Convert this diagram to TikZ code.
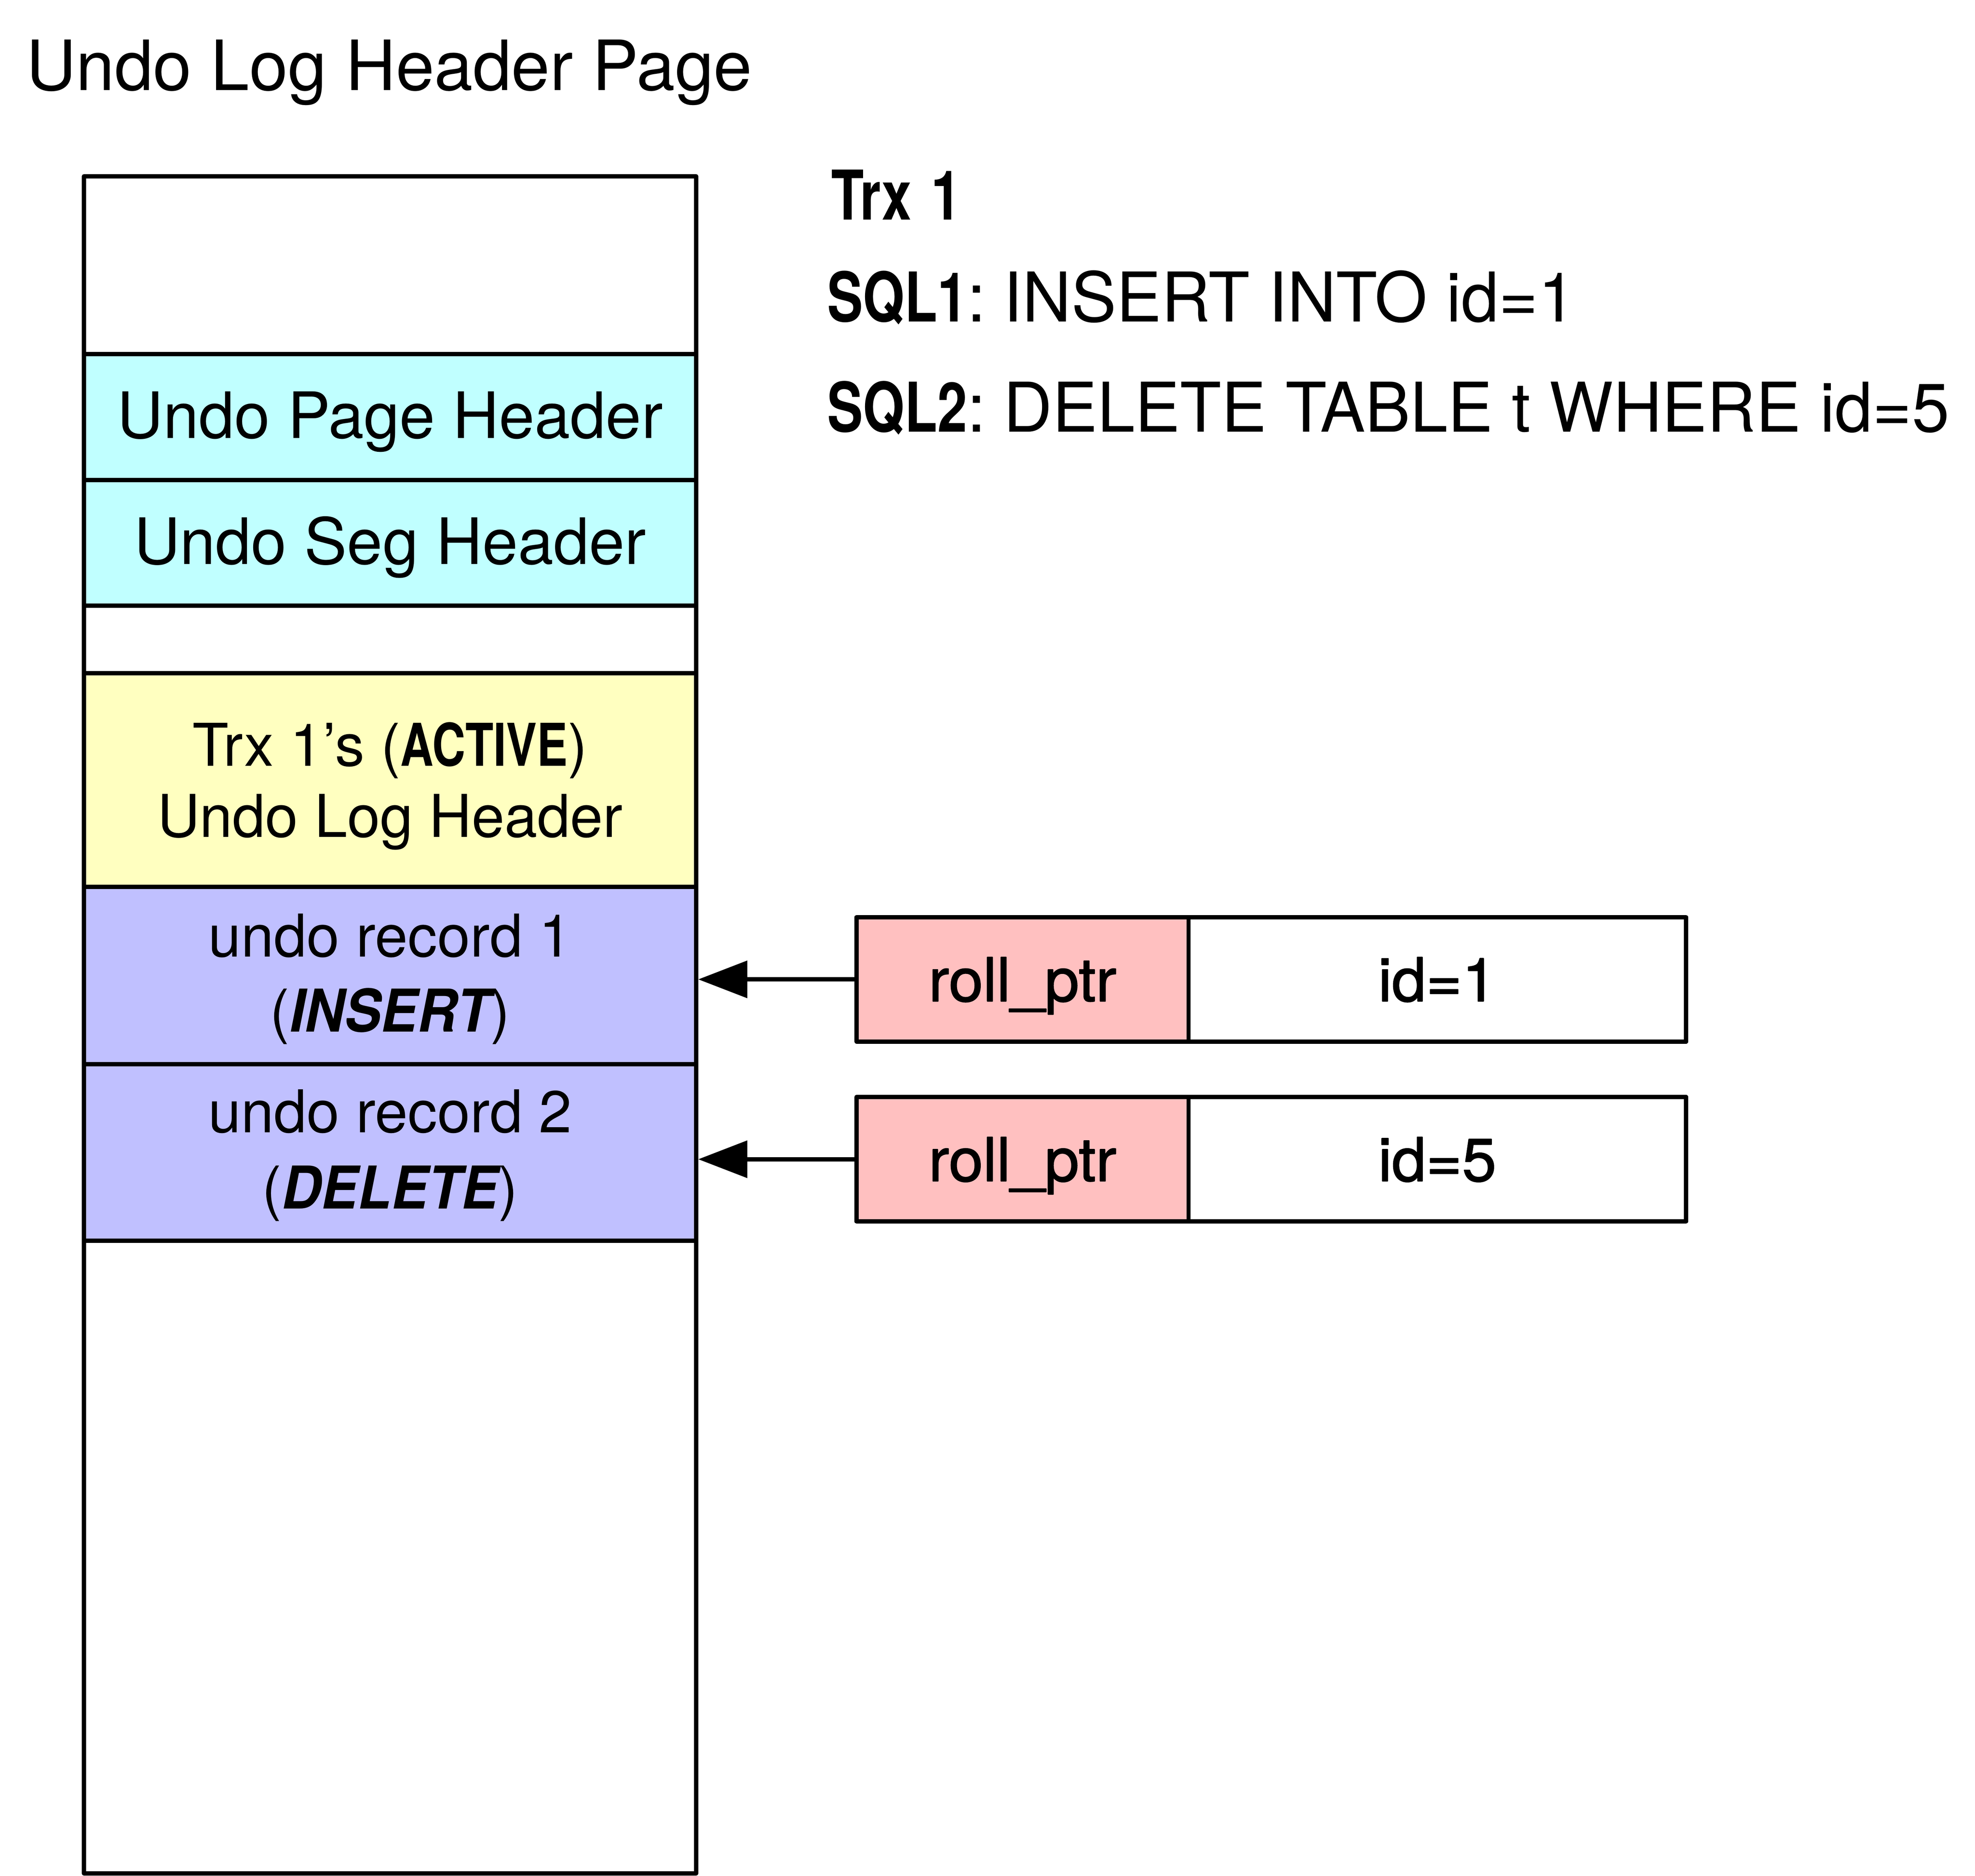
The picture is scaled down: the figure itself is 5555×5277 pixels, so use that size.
\documentclass[tikz,border=0pt]{standalone}
\usepackage{fontspec}
\setmainfont{TeX Gyre Heros}
\newfontfamily\cnb[FakeStretch=0.78]{TeX Gyre Heros}
\newfontfamily\sqlf[FakeStretch=0.985]{TeX Gyre Heros}
\newfontfamily\bif[FakeStretch=0.93]{TeX Gyre Heros}
\newfontfamily\medf[FakeBold=1.5,FakeStretch=1.02]{TeX Gyre Heros}
\usetikzlibrary{arrows.meta}
\definecolor{cyanfill}{RGB}{192,255,255}
\definecolor{yelfill}{RGB}{255,255,192}
\definecolor{lavfill}{RGB}{192,192,255}
\definecolor{pinkfill}{RGB}{255,192,192}
\newcommand\fsA{\fontsize{19.5pt}{23pt}\selectfont}
\newcommand\fsR{\fontsize{19.3pt}{23pt}\selectfont}
\newcommand\fsB{\fontsize{18pt}{22pt}\selectfont}
\newcommand\fsC{\fontsize{16.6pt}{20pt}\selectfont}
\newcommand\fsD{\fontsize{17pt}{20pt}\selectfont\medf}
\tikzset{
  cell/.style={draw=black, line width=1.2pt, line join=round, minimum width=172.2pt, inner sep=0pt, anchor=center},
  cyancell/.style={cell, fill=cyanfill, font=\fsB, text height=12pt, text depth=0pt},
  fbox/.style={draw=black, line width=1.2pt, line join=round, inner sep=0pt, minimum height=35pt, anchor=center, font=\fsD, text height=12.3pt, text depth=0pt},
  lbl/.style={inner sep=0pt, anchor=base, font=\fsC},
  ptr/.style={line width=1.2pt, -{Triangle[length=13.8pt,width=10.3pt]}}
}
\begin{document}
\begin{tikzpicture}[x=0.1pt,y=-0.1pt]
\useasboundingbox (0,0) rectangle (5555,5277);
% title and transaction text
\node[lbl, anchor=base west, font=\fsA] (title) at (72,254) {Undo Log Header Page};
\node[lbl, anchor=base west, font=\fsR] (trx) at (2336,618) {{\cnb\bfseries Trx\hspace{5.5pt}1}};
\node[lbl, anchor=base west, font=\fsR] (sql1) at (2325,905) {{\cnb\bfseries SQL1}{\sqlf:\hspace{5pt}INSERT INTO id=1}};
\node[lbl, anchor=base west, font=\fsR] (sql2) at (2325,1215) {{\cnb\bfseries SQL2}{\sqlf:\hspace{5pt}DELETE TABLE t WHERE id=5}};
% page column
\node[cell, minimum height=50pt] (top) at (1097,746) {};
\node[cyancell, minimum height=35.4pt] (pageh) at (1097,1173) {Undo Page Header};
\node[cyancell, minimum height=35.4pt] (segh) at (1097,1527) {Undo Seg Header};
\node[cell, minimum height=19pt] (gap) at (1097,1799) {};
\node[cell, fill=yelfill, minimum height=60.1pt] (loghdr) at (1097,2194.5) {};
\node[cell, fill=lavfill, minimum height=49.9pt] (rec1) at (1097,2744.5) {};
\node[cell, fill=lavfill, minimum height=49.6pt] (rec2) at (1097,3242) {};
\node[cell, minimum height=178pt] (free) at (1097,4380) {};
% column labels
\node[lbl] (lh1) at (1097,2155) {Trx 1’s ({\cnb\bfseries ACTIVE})};
\node[lbl] (lh2) at (1097,2355) {Undo Log Header};
\node[lbl] (r1a) at (1097,2691) {undo record 1};
\node[lbl] (r1b) at (1097,2903) {({\bif\bfseries\itshape INSERT})};
\node[lbl] (r2a) at (1097,3186) {undo record 2};
\node[lbl] (r2b) at (1097,3400) {({\bif\bfseries\itshape DELETE})};
% rows
\node[fbox, fill=pinkfill, minimum width=93.4pt] (rp1) at (2876,2755) {roll\_ptr};
\node[fbox, fill=white, minimum width=139.9pt] (id1) at (4042.5,2755) {id=1};
\node[fbox, fill=pinkfill, minimum width=93.4pt] (rp2) at (2876,3261) {roll\_ptr};
\node[fbox, fill=white, minimum width=139.9pt] (id2) at (4042.5,3261) {id=5};
% pointers
\draw[ptr] (rp1.west) -- (rec1.east |- rp1.west);
\draw[ptr] (rp2.west) -- (rec2.east |- rp2.west);
\end{tikzpicture}
\end{document}
